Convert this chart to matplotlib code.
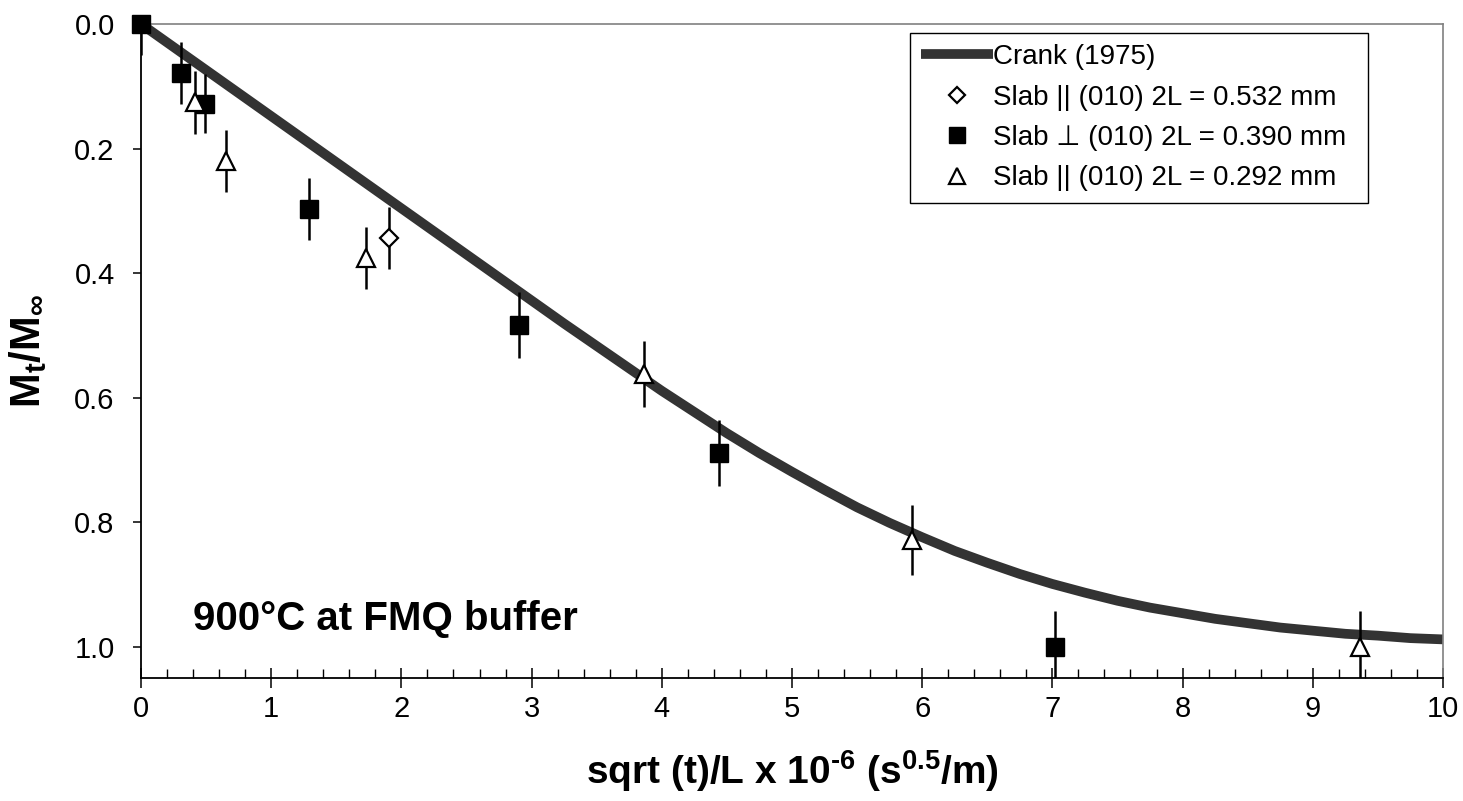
import matplotlib
matplotlib.use("Agg")
import matplotlib.pyplot as plt
from matplotlib.ticker import MultipleLocator, FormatStrFormatter

plt.rcParams['font.family'] = ['Liberation Sans', 'DejaVu Sans']
plt.rcParams['mathtext.fontset'] = 'custom'
plt.rcParams['mathtext.rm'] = 'Liberation Sans:bold'
plt.rcParams['mathtext.it'] = 'Liberation Sans:bold'
plt.rcParams['mathtext.bf'] = 'Liberation Sans:bold'
plt.rcParams['mathtext.default'] = 'rm'

# Crank (1975) model curve
crank_x = [0, 0.5, 1, 1.5, 2, 2.5, 3, 3.25, 3.5, 3.75, 4, 4.25, 4.5, 4.75, 5, 5.25,
           5.5, 5.75, 6, 6.25, 6.5, 6.75, 7, 7.25, 7.5, 7.75, 8, 8.25, 8.5, 8.75,
           9, 9.25, 9.5, 9.75, 10]
crank_y = [0, 0.074, 0.148, 0.222, 0.296, 0.370, 0.444, 0.481, 0.517, 0.553, 0.589,
           0.623, 0.657, 0.689, 0.719, 0.748, 0.776, 0.801, 0.824, 0.846, 0.865,
           0.883, 0.899, 0.913, 0.926, 0.937, 0.946, 0.955, 0.962, 0.969, 0.974,
           0.979, 0.982, 0.986, 0.988]

# Slab || (010) 2L = 0.532 mm
dia_x = [1.905]
dia_y = [0.344]
dia_err = [0.05]

# Slab ⊥ (010) 2L = 0.390 mm
sq_x = [0, 0.31, 0.49, 1.29, 2.9, 4.44, 7.02]
sq_y = [0, 0.079, 0.128, 0.297, 0.484, 0.688, 1.0]
sq_err = [0.05, 0.05, 0.047, 0.05, 0.053, 0.053, 0.057]

# Slab || (010) 2L = 0.292 mm
tri_x = [0.415, 0.653, 1.726, 3.863, 5.92, 9.363]
tri_y = [0.126, 0.22, 0.376, 0.5625, 0.829, 1.0]
tri_err = [0.05, 0.05, 0.05, 0.053, 0.056, 0.058]

labels = ['Crank (1975)',
          'Slab || (010) 2L = 0.532 mm',
          'Slab \u22a5 (010) 2L = 0.390 mm',
          'Slab || (010) 2L = 0.292 mm']

fig = plt.figure(figsize=(14.63, 8.01), dpi=100)
ax = fig.add_axes([0.0964, 0.15356, 0.8899, 0.81648])

line, = ax.plot(crank_x, crank_y, color='#333333', lw=7, zorder=2, solid_capstyle='butt')

for xs, ys, es in [(dia_x, dia_y, dia_err), (sq_x, sq_y, sq_err), (tri_x, tri_y, tri_err)]:
    ax.errorbar(xs, ys, yerr=es, fmt='none', ecolor='black', elinewidth=1.8, capsize=0, zorder=3)

hd, = ax.plot(dia_x, dia_y, ls='none', marker='D', ms=9, mfc='white', mec='black', mew=1.6,
              zorder=4, clip_on=False)
hs, = ax.plot(sq_x, sq_y, ls='none', marker='s', ms=13, mfc='black', mec='black', mew=1,
              zorder=4, clip_on=False)
ht, = ax.plot(tri_x, tri_y, ls='none', marker='^', ms=13, mfc='white', mec='black', mew=1.6,
              zorder=4, clip_on=False)

ax.set_xlim(0, 10)
ax.set_ylim(1.05, 0)

ax.xaxis.set_major_locator(MultipleLocator(1))
ax.xaxis.set_minor_locator(MultipleLocator(0.2))
ax.yaxis.set_major_locator(MultipleLocator(0.2))
ax.yaxis.set_major_formatter(FormatStrFormatter('%.1f'))

ax.tick_params(axis='x', which='major', direction='inout', length=15, width=1.1,
               labelsize=21, pad=5, top=False)
ax.tick_params(axis='x', which='minor', direction='in', length=6.5, width=1.0, top=False)
ax.tick_params(axis='y', which='major', direction='out', length=6, width=1.1,
               labelsize=21, pad=13, right=False)

for s in ['left', 'bottom']:
    ax.spines[s].set_color('black')
    ax.spines[s].set_linewidth(1.3)
for s in ['top', 'right']:
    ax.spines[s].set_color('#808080')
    ax.spines[s].set_linewidth(1.2)

ax.set_xlabel('sqrt (t)/L x 10$^{\u20106}$ (s$^{0.5}$/m)',
              fontsize=28, fontweight='bold', labelpad=18)
ax.set_ylabel(r'M$_{t}$/M$_{\infty}$', fontsize=30, fontweight='bold', labelpad=18)

ax.text(0.40, 0.973, '900\u00b0C at FMQ buffer', fontsize=29, fontweight='bold',
        ha='left', va='baseline')

leg = ax.legend([line, hd, hs, ht], labels, loc='upper left', mode='expand',
                bbox_to_anchor=(0.5906, 0.7294, 0.3518, 0.2568), fontsize=20, frameon=True,
                fancybox=False, edgecolor='black', framealpha=1, handlelength=2.6,
                handletextpad=0.0, labelspacing=0.52, borderpad=0.4, borderaxespad=0,
                markerscale=0.85, numpoints=1)
leg.get_frame().set_linewidth(1.0)

fig.savefig('out.png', dpi=100)
